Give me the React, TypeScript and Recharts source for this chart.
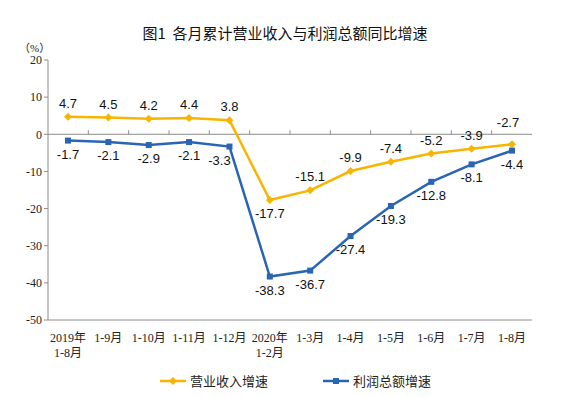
import React from 'react';
import { LineChart, Line, XAxis, YAxis, ReferenceLine, LabelList } from 'recharts';

const categories = ['2019年\n1-8月', '1-9月', '1-10月', '1-11月', '1-12月', '2020年\n1-2月', '1-3月', '1-4月', '1-5月', '1-6月', '1-7月', '1-8月'];
const revenueGrowth = [4.7, 4.5, 4.2, 4.4, 3.8, -17.7, -15.1, -9.9, -7.4, -5.2, -3.9, -2.7];
const profitGrowth = [-1.7, -2.1, -2.9, -2.1, -3.3, -38.3, -36.7, -27.4, -19.3, -12.8, -8.1, -4.4];
const yTicks = [-50, -40, -30, -20, -10, 0, 10, 20];

const YELLOW = '#F7B400';
const BLUE = '#2A64B4';
const GRID = '#8c8c8c';
const SERIF = '"Liberation Serif", "Times New Roman", "Noto Sans CJK SC", serif';
const SANS = '"Liberation Sans", Arial, sans-serif';
const CJK = '"Noto Sans CJK SC", sans-serif';

const data = categories.map((c, i) => ({ name: c, revenue: revenueGrowth[i], profit: profitGrowth[i] }));

const XTick = (props: any) => {
  const { x, y, payload } = props;
  const lines = String(payload.value).split('\n');
  return (
    <text x={x} y={y + 14} textAnchor="middle" fontSize={12} fontFamily={SERIF} fill="#222">
      {lines.map((l, i) => (
        <tspan key={i} x={x} dy={i === 0 ? 0 : 15}>{l}</tspan>
      ))}
    </text>
  );
};

const Diamond = (props: any) => {
  const { cx, cy } = props;
  if (cx == null || cy == null) return null;
  return <path d={`M${cx},${cy - 4}L${cx + 4},${cy}L${cx},${cy + 4}L${cx - 4},${cy}Z`} fill={YELLOW} />;
};

const Square = (props: any) => {
  const { cx, cy } = props;
  if (cx == null || cy == null) return null;
  return <rect x={cx - 3} y={cy - 3} width={6} height={6} fill={BLUE} />;
};

// label placement nudges, keyed by point index
const revenueNudge: Record<number, [number, number]> = { 5: [0, 27], 11: [-4, -8] };
const profitNudge: Record<number, [number, number]> = { 4: [-10, 0] };

const makeLabel = (values: number[], below: (i: number) => boolean, nudge: Record<number, [number, number]>) => (props: any) => {
  const { x, y, index } = props;
  const [nx, ny] = nudge[index] || [0, 0];
  const dy = (below(index) ? 18 : -9) + ny;
  return (
    <text x={x + nx} y={y + dy} textAnchor="middle" fontSize={13} fontFamily={SANS} fill="#111">
      {values[index].toFixed(1)}
    </text>
  );
};

// zero line with small category divider ticks
const ZeroLine = (props: any) => {
  const { x1, x2, y1 } = props;
  const n = categories.length;
  const step = (x2 - x1) / n;
  const ticks = [];
  for (let k = 1; k < n; k++) {
    const tx = x1 + step * k;
    ticks.push(<line key={k} x1={tx} x2={tx} y1={y1} y2={y1 - 4} stroke={GRID} strokeWidth={1} />);
  }
  return (
    <g>
      <line x1={x1} x2={x2} y1={y1} y2={y1} stroke={GRID} strokeWidth={1} />
      {ticks}
    </g>
  );
};

export default function App() {
  return (
    <div style={{ position: 'absolute', left: 0, top: 0, width: 562, height: 397, background: '#fff' }}>
      <div style={{ position: 'absolute', top: 22, left: 0, width: 570, textAlign: 'center', fontFamily: CJK, fontSize: 15, color: '#111' }}>
        图1&nbsp;&nbsp;各月累计营业收入与利润总额同比增速
      </div>
      <div style={{ position: 'absolute', top: 39, left: 19, fontFamily: SERIF, fontSize: 11, color: '#222' }}>（%）</div>
      <LineChart width={562} height={397} data={data} margin={{ top: 60, right: 30, left: 0, bottom: 47 }}>
        <XAxis dataKey="name" axisLine={{ stroke: GRID }} tickLine={false} tick={<XTick />} interval={0} padding={{ left: 20, right: 20 }} height={30} />
        <XAxis xAxisId="top" orientation="top" dataKey="name" axisLine={{ stroke: GRID }} tick={false} tickLine={false} height={0} />
        <YAxis domain={[-50, 20]} ticks={yTicks} axisLine={{ stroke: GRID }} tickLine={{ stroke: GRID }} tickSize={4} width={48} tick={{ fontSize: 12, fontFamily: SERIF, fill: '#222' }} />
        <YAxis yAxisId="right" orientation="right" domain={[-50, 20]} axisLine={{ stroke: GRID }} tick={false} tickLine={false} width={0} />
        <ReferenceLine y={0} shape={<ZeroLine />} />
        <Line dataKey="revenue" stroke={YELLOW} strokeWidth={2.5} dot={<Diamond />} activeDot={false} isAnimationActive={false}>
          <LabelList dataKey="revenue" content={makeLabel(revenueGrowth, () => false, revenueNudge)} />
        </Line>
        <Line dataKey="profit" stroke={BLUE} strokeWidth={2.5} dot={<Square />} activeDot={false} isAnimationActive={false}>
          <LabelList dataKey="profit" content={makeLabel(profitGrowth, () => true, profitNudge)} />
        </Line>
      </LineChart>
      <div style={{ position: 'absolute', top: 371, left: 160, display: 'flex', alignItems: 'center', fontFamily: CJK, fontSize: 13, color: '#222' }}>
        <svg width={26} height={10} style={{ marginRight: 4 }}>
          <line x1={0} x2={26} y1={5} y2={5} stroke={YELLOW} strokeWidth={2.5} />
          <path d="M13,1L17,5L13,9L9,5Z" fill={YELLOW} />
        </svg>
        营业收入增速
      </div>
      <div style={{ position: 'absolute', top: 371, left: 323, display: 'flex', alignItems: 'center', fontFamily: CJK, fontSize: 13, color: '#222' }}>
        <svg width={26} height={10} style={{ marginRight: 4 }}>
          <line x1={0} x2={26} y1={5} y2={5} stroke={BLUE} strokeWidth={2.5} />
          <rect x={10} y={2} width={6} height={6} fill={BLUE} />
        </svg>
        利润总额增速
      </div>
    </div>
  );
}
